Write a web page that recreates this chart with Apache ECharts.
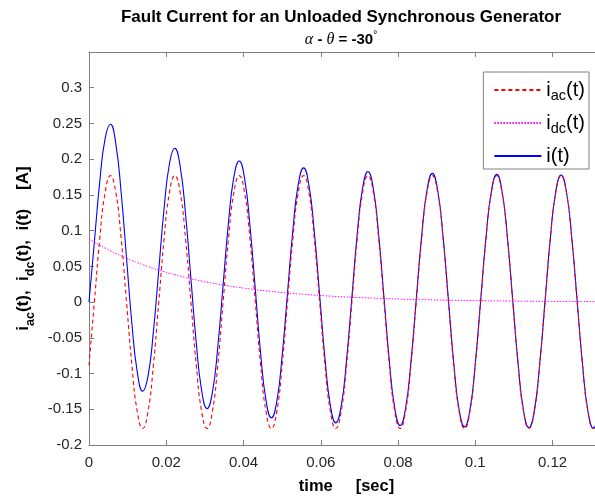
<!DOCTYPE html>
<html>
<head>
<meta charset="utf-8">
<script src="https://cdn.jsdelivr.net/npm/echarts@6/dist/echarts.min.js"></script>
<style>
html,body{margin:0;padding:0;background:#fff;}
#chart{width:595px;height:496px;}
</style>
</head>
<body>
<div id="chart"></div>
<script>
// time samples [sec]
const time = [0, 0.00139, 0.00278, 0.00417, 0.00556, 0.00694, 0.00833, 0.00972, 0.01111, 0.0125,
  0.01389, 0.01528, 0.01667, 0.01806, 0.01944, 0.02083, 0.02222, 0.02361, 0.025, 0.02639,
  0.02778, 0.02917, 0.03056, 0.03194, 0.03333, 0.03472, 0.03611, 0.0375, 0.03889, 0.04028,
  0.04167, 0.04306, 0.04444, 0.04583, 0.04722, 0.04861, 0.05, 0.05139, 0.05278, 0.05417,
  0.05556, 0.05694, 0.05833, 0.05972, 0.06111, 0.0625, 0.06389, 0.06528, 0.06667, 0.06806,
  0.06944, 0.07083, 0.07222, 0.07361, 0.075, 0.07639, 0.07778, 0.07917, 0.08056, 0.08194,
  0.08333, 0.08472, 0.08611, 0.0875, 0.08889, 0.09028, 0.09167, 0.09306, 0.09444, 0.09583,
  0.09722, 0.09861, 0.1, 0.10139, 0.10278, 0.10417, 0.10556, 0.10694, 0.10833, 0.10972,
  0.11111, 0.1125, 0.11389, 0.11528, 0.11667, 0.11806, 0.11944, 0.12083, 0.12222, 0.12361,
  0.125, 0.12639, 0.12778, 0.12917, 0.13056, 0.13194, 0.13333];

// i_ac(t) [A]
const iAc = [-0.0885, 0, 0.0885, 0.1533, 0.177, 0.1533, 0.0885, 0, -0.0885, -0.1533,
  -0.177, -0.1533, -0.0885, 0, 0.0885, 0.1533, 0.177, 0.1533, 0.0885, 0,
  -0.0885, -0.1533, -0.177, -0.1533, -0.0885, 0, 0.0885, 0.1533, 0.177, 0.1533,
  0.0885, 0, -0.0885, -0.1533, -0.177, -0.1533, -0.0885, 0, 0.0885, 0.1533,
  0.177, 0.1533, 0.0885, 0, -0.0885, -0.1533, -0.177, -0.1533, -0.0885, 0,
  0.0885, 0.1533, 0.177, 0.1533, 0.0885, 0, -0.0885, -0.1533, -0.177, -0.1533,
  -0.0885, 0, 0.0885, 0.1533, 0.177, 0.1533, 0.0885, 0, -0.0885, -0.1533,
  -0.177, -0.1533, -0.0885, 0, 0.0885, 0.1533, 0.177, 0.1533, 0.0885, 0,
  -0.0885, -0.1533, -0.177, -0.1533, -0.0885, 0, 0.0885, 0.1533, 0.177, 0.1533,
  0.0885, 0, -0.0885, -0.1533, -0.177, -0.1533, -0.0885];

// i_dc(t) [A]
const iDc = [0.0885, 0.0840, 0.0797, 0.0756, 0.0718, 0.0681, 0.0646, 0.0613, 0.0582, 0.0552,
  0.0524, 0.0497, 0.0472, 0.0448, 0.0425, 0.0403, 0.0383, 0.0363, 0.0345, 0.0327,
  0.0310, 0.0294, 0.0279, 0.0265, 0.0252, 0.0239, 0.0227, 0.0215, 0.0204, 0.0194,
  0.0184, 0.0174, 0.0165, 0.0157, 0.0149, 0.0141, 0.0134, 0.0127, 0.0121, 0.0115,
  0.0109, 0.0103, 0.0098, 0.0093, 0.0088, 0.0084, 0.0079, 0.0075, 0.0072, 0.0068,
  0.0064, 0.0061, 0.0058, 0.0055, 0.0052, 0.0050, 0.0047, 0.0045, 0.0042, 0.0040,
  0.0038, 0.0036, 0.0034, 0.0033, 0.0031, 0.0029, 0.0028, 0.0026, 0.0025, 0.0024,
  0.0023, 0.0021, 0.0020, 0.0019, 0.0018, 0.0017, 0.0017, 0.0016, 0.0015, 0.0014,
  0.0013, 0.0013, 0.0012, 0.0011, 0.0011, 0.0010, 0.0010, 0.0009, 0.0009, 0.0008,
  0.0008, 0.0007, 0.0007, 0.0007, 0.0006, 0.0006, 0.0006];

// i(t) [A]
const iTotal = [0, 0.0840, 0.1682, 0.2289, 0.2488, 0.2214, 0.1531, 0.0613, -0.0303, -0.0981,
  -0.1246, -0.1036, -0.0413, 0.0448, 0.1310, 0.1936, 0.2153, 0.1896, 0.1230, 0.0327,
  -0.0575, -0.1239, -0.1491, -0.1268, -0.0633, 0.0239, 0.1112, 0.1748, 0.1974, 0.1727,
  0.1069, 0.0174, -0.0720, -0.1376, -0.1621, -0.1392, -0.0751, 0.0127, 0.1006, 0.1648,
  0.1879, 0.1636, 0.0983, 0.0093, -0.0797, -0.1449, -0.1691, -0.1458, -0.0814, 0.0068,
  0.0949, 0.1594, 0.1828, 0.1588, 0.0937, 0.0050, -0.0838, -0.1488, -0.1728, -0.1493,
  -0.0847, 0.0036, 0.0919, 0.1566, 0.1801, 0.1562, 0.0913, 0.0026, -0.0860, -0.1509,
  -0.1747, -0.1512, -0.0865, 0.0019, 0.0903, 0.1550, 0.1787, 0.1549, 0.0900, 0.0014,
  -0.0872, -0.1520, -0.1758, -0.1522, -0.0874, 0.0010, 0.0895, 0.1542, 0.1779, 0.1541,
  0.0893, 0.0008, -0.0878, -0.1526, -0.1764, -0.1527, -0.0879];

const xTicks = {min: 0, max: 0.13333, interval: 0.02};
const yTicks = {min: -0.2, max: 0.35, interval: 0.05};

const FONT = '"Liberation Sans", Arial, Helvetica, sans-serif';
const AXC = '#808080';
const LBL = '#262626';

const pairs = arr => time.map((t, i) => [t, arr[i]]);

const chart = echarts.init(document.getElementById('chart'), null, {renderer: 'canvas'});

const subRich = {
  m: {fontFamily: FONT, fontWeight: 'bold', fontSize: 17, lineHeight: 27, color: '#000', verticalAlign: 'middle'},
  s: {fontFamily: FONT, fontWeight: 'bold', fontSize: 12.5, color: '#000', verticalAlign: 'bottom'}
};
const legRich = {
  m: {fontFamily: FONT, fontSize: 20, lineHeight: 26, color: '#000', verticalAlign: 'middle'},
  s: {fontFamily: FONT, fontSize: 14.5, color: '#000', verticalAlign: 'bottom'}
};
const legendNames = {
  iac: '{m|i}{s|ac}{m|(t)}',
  idc: '{m|i}{s|dc}{m|(t)}',
  it: '{m|i(t)}'
};

const option = {
  animation: false,
  backgroundColor: '#fff',
  grid: {left: 89, top: 52, bottom: 51, right: -9, containLabel: false, outerBoundsMode: 'none'},
  graphic: [
    {type: 'text', x: 341, y: 17, style: {
      text: 'Fault Current for an Unloaded Synchronous Generator',
      font: 'bold 17px ' + FONT, fill: '#000', align: 'center', verticalAlign: 'middle'}},
    {type: 'text', x: 341, y: 40, style: {
      text: '{g|\u03b1}{b| - }{g|\u03b8}{b| = -30}{d|\u00b0}',
      align: 'center', verticalAlign: 'middle',
      rich: {
        g: {fontFamily: '"Liberation Serif", "DejaVu Serif", serif', fontStyle: 'italic', fontSize: 16, lineHeight: 20, color: '#000'},
        b: {fontFamily: FONT, fontWeight: 'bold', fontSize: 15, lineHeight: 20, color: '#000'},
        d: {fontFamily: FONT, fontSize: 10, color: '#000', verticalAlign: 'top'}
      }}}
  ],
  legend: {
    orient: 'vertical',
    right: 6, top: 72,
    padding: [8, 4, 3, 10],
    itemGap: 10,
    itemWidth: 47, itemHeight: 10,
    backgroundColor: '#fff',
    borderColor: '#808080', borderWidth: 1, borderRadius: 0,
    data: ['iac', 'idc', 'it'],
    formatter: n => legendNames[n],
    itemStyle: {opacity: 0},
    textStyle: {rich: legRich},
    selectedMode: false
  },
  xAxis: [{
    type: 'value', position: 'bottom',
    min: xTicks.min, max: xTicks.max, interval: xTicks.interval,
    name: 'time     [sec]', nameLocation: 'middle', nameGap: 33,
    nameTextStyle: {fontFamily: FONT, fontWeight: 'bold', fontSize: 16.5, color: '#000'},
    axisLine: {show: true, onZero: false, lineStyle: {color: AXC, width: 1}},
    axisTick: {show: true, inside: true, length: 5, lineStyle: {color: AXC}},
    axisLabel: {fontFamily: FONT, fontSize: 15, color: LBL, margin: 10, showMaxLabel: false},
    splitLine: {show: false}
  }, {
    type: 'value', position: 'top',
    min: xTicks.min, max: xTicks.max, interval: xTicks.interval,
    axisLine: {show: true, onZero: false, lineStyle: {color: AXC, width: 1}},
    axisTick: {show: true, inside: true, length: 5, lineStyle: {color: AXC}},
    axisLabel: {show: false},
    splitLine: {show: false}
  }],
  yAxis: [{
    type: 'value', position: 'left',
    min: yTicks.min, max: yTicks.max, interval: yTicks.interval,
    name: '{m|i}{s|ac}{m|(t),  i}{s|dc}{m|(t),  i(t)    [A]}',
    nameLocation: 'middle', nameGap: 51,
    nameTextStyle: {rich: subRich},
    axisLine: {show: true, onZero: false, lineStyle: {color: AXC, width: 1}},
    axisTick: {show: true, inside: true, length: 5, lineStyle: {color: AXC}},
    axisLabel: {fontFamily: FONT, fontSize: 15, color: LBL, margin: 7,
      formatter: v => (Math.abs(v - 0.35) < 1e-9 ? '' : String(Math.round(v * 100) / 100))},
    splitLine: {show: false}
  }],
  series: [
    {name: 'it', type: 'line', data: pairs(iTotal), smooth: 0.5, symbol: 'none', showSymbol: false,
      lineStyle: {color: '#0000ff', width: 1.1, type: 'solid'}, itemStyle: {color: '#0000ff'}, z: 2},
    {name: 'iac', type: 'line', data: pairs(iAc), smooth: 0.5, symbol: 'none', showSymbol: false,
      lineStyle: {color: '#ff0000', width: 1.1, type: [4, 3]}, itemStyle: {color: '#ff0000'}, z: 3},
    {name: 'idc', type: 'line', data: pairs(iDc), smooth: 0.5, symbol: 'none', showSymbol: false,
      lineStyle: {color: '#ff00ff', width: 1, type: [1.5, 1.5]}, itemStyle: {color: '#ff00ff'}, z: 3}
  ]
};
chart.setOption(option);
</script>
</body>
</html>
